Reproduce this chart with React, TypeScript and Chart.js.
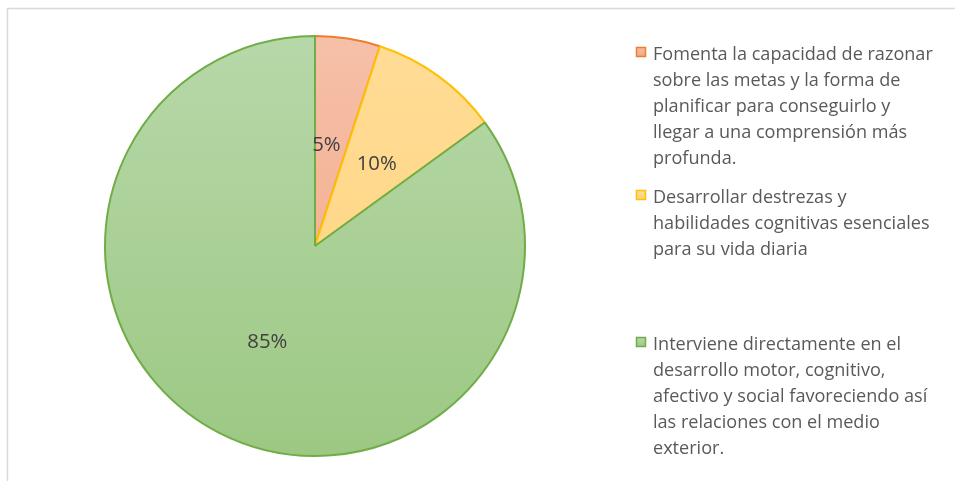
import React, { useEffect, useRef } from "react";
import { Chart, registerables } from "chart.js";

Chart.register(...registerables);

const categories: string[][] = [
  ["Fomenta la capacidad de razonar", "sobre las metas y la forma de", "planificar para conseguirlo y", "llegar a una comprensión más", "profunda."],
  ["Desarrollar destrezas y", "habilidades cognitivas esenciales", "para su vida diaria"],
  ["Interviene directamente en el", "desarrollo motor, cognitivo,", "afectivo y social favoreciendo así", "las relaciones con el medio", "exterior."],
];
const values: number[] = [5, 10, 85];
const valueLabels: string[] = ["5%", "10%", "85%"];

const gradTop = ["#F6C0A8", "#FFDC96", "#B7D8A9"];
const gradBottom = ["#F2A584", "#FFD37C", "#9CC883"];
const borderColors = ["#ED7D31", "#FFC000", "#70AD47"];

const FONT = "'Open Sans', 'Noto Sans', sans-serif";

export default function App() {
  const ref = useRef<HTMLCanvasElement | null>(null);

  useEffect(() => {
    const canvas = ref.current;
    if (!canvas) return;

    const makeGrad = (ctx: CanvasRenderingContext2D, i: number) => {
      const g = ctx.createLinearGradient(0, 36, 0, 458);
      g.addColorStop(0, gradTop[i]);
      g.addColorStop(1, gradBottom[i]);
      return g;
    };

    const fitSize = (ctx: CanvasRenderingContext2D, text: string, target: number) => {
      ctx.font = `100px ${FONT}`;
      const w = ctx.measureText(text).width;
      return (100 * target) / w;
    };

    const framePlugin = {
      id: "frame",
      beforeDraw(chart: any) {
        const ctx = chart.ctx as CanvasRenderingContext2D;
        ctx.save();
        ctx.fillStyle = "#ffffff";
        ctx.fillRect(0, 0, chart.width, chart.height);
        ctx.strokeStyle = "#D9D9D9";
        ctx.lineWidth = 1.5;
        ctx.strokeRect(7.5, 8.5, 1200, 1200);
        ctx.restore();
      },
    };

    const labelsPlugin = {
      id: "sliceLabels",
      afterDatasetsDraw(chart: any) {
        const ctx = chart.ctx as CanvasRenderingContext2D;
        const meta = chart.getDatasetMeta(0);
        ctx.save();
        const size = fitSize(ctx, "10%", 40);
        ctx.font = `${size}px ${FONT}`;
        ctx.fillStyle = "#404040";
        ctx.textAlign = "center";
        ctx.textBaseline = "middle";
        meta.data.forEach((arc: any, i: number) => {
          const p = arc.tooltipPosition();
          ctx.fillText(valueLabels[i], p.x - (i === 0 ? 5 : 0), p.y + 3);
        });
        ctx.restore();
      },
    };

    const legendPlugin = {
      id: "customLegend",
      afterDraw(chart: any) {
        const ctx = chart.ctx as CanvasRenderingContext2D;
        const starts = [52, 195, 342];
        const lineH = 26.2;
        ctx.save();
        const size = fitSize(ctx, categories[0][0], 280);
        ctx.font = `${size}px ${FONT}`;
        ctx.textBaseline = "middle";
        ctx.textAlign = "left";
        categories.forEach((lines, i) => {
          const y0 = starts[i];
          const g = ctx.createLinearGradient(0, y0 - 5, 0, y0 + 5);
          g.addColorStop(0, gradTop[i]);
          g.addColorStop(1, gradBottom[i]);
          ctx.fillStyle = g;
          ctx.fillRect(636, y0 - 5, 10, 10);
          ctx.strokeStyle = borderColors[i];
          ctx.lineWidth = 1.5;
          ctx.strokeRect(636.5, y0 - 4.5, 9, 9);
          ctx.fillStyle = "#595959";
          lines.forEach((t, j) => {
            ctx.fillText(t, 653, y0 + j * lineH + 2.5);
          });
        });
        ctx.restore();
      },
    };

    const chart = new Chart(canvas, {
      type: "pie",
      data: {
        labels: categories.map((l) => l.join(" ")),
        datasets: [
          {
            data: values,
            backgroundColor: (c: any) => makeGrad(c.chart.ctx, c.dataIndex),
            borderColor: borderColors,
            borderWidth: 2,
            hoverOffset: 0,
          },
        ],
      },
      options: {
        responsive: false,
        animation: false,
        radius: 210,
        layout: { padding: { left: 0, right: 325, top: 11, bottom: 0 } },
        plugins: {
          legend: { display: false },
          tooltip: { enabled: false },
        },
        events: [],
      } as any,
      plugins: [framePlugin, labelsPlugin, legendPlugin],
    });

    return () => chart.destroy();
  }, []);

  return (
    <canvas
      ref={ref}
      width={955}
      height={481}
      style={{ position: "fixed", left: 0, top: 0, width: 955, height: 481 }}
    />
  );
}
